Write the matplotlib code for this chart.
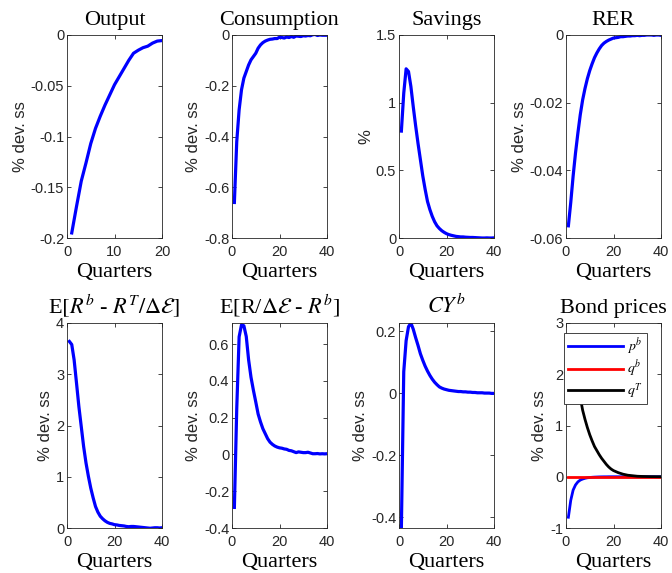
import numpy as np
import matplotlib
matplotlib.use("Agg")
import matplotlib.pyplot as plt

# Dados (respostas a impulso)

q20 = np.arange(1, 21)
q40 = np.arange(1, 41)

output = [-0.195, -0.169, -0.144, -0.126, -0.107, -0.092, -0.080, -0.069, -0.059, -0.049,
          -0.041, -0.033, -0.025, -0.018, -0.015, -0.0125, -0.011, -0.008, -0.006, -0.0055]

consumption = [-0.66, -0.42, -0.295, -0.216, -0.17, -0.144, -0.118, -0.098, -0.085, -0.072,
               -0.052, -0.039, -0.030, -0.024, -0.020, -0.017, -0.016, -0.014, -0.014, -0.009,
               -0.010, -0.012, -0.008, -0.010, -0.006, -0.009, -0.004, -0.005, -0.006, -0.003,
               -0.004, -0.002, -0.003, 0.001, 0.002, -0.002, 0.0, -0.001, -0.001, -0.001]

savings = [0.79, 1.07, 1.25, 1.23, 1.12, 0.97, 0.83, 0.70, 0.58, 0.46,
           0.36, 0.27, 0.21, 0.16, 0.12, 0.09, 0.07, 0.054, 0.042, 0.032,
           0.025, 0.02, 0.016, 0.012, 0.01, 0.008, 0.008, 0.006, 0.005, 0.004,
           0.004, 0.003, 0.002, 0.001, 0.0, 0.0, 0.001, 0.0, 0.0, 0.001]

rer = [-0.0564, -0.0495, -0.0417, -0.0349, -0.029, -0.0236, -0.0192, -0.0158, -0.0129, -0.0105,
       -0.0085, -0.0067, -0.0053, -0.0041, -0.0031, -0.0024, -0.0019, -0.0015, -0.0012, -0.0009,
       -0.0008, -0.0007, -0.0005, -0.0005, -0.0004, -0.0003, -0.0003, -0.0002, -0.0002, -0.0001,
       -0.0002, -0.0001, -0.0001, 0.0, 0.0, 0.0, -0.0001, 0.0, 0.0, -0.0001]

spread_bT = [3.64, 3.58, 3.28, 2.83, 2.37, 1.98, 1.59, 1.27, 1.01, 0.78,
             0.59, 0.42, 0.31, 0.23, 0.18, 0.14, 0.11, 0.09, 0.08, 0.065,
             0.06, 0.05, 0.045, 0.04, 0.03, 0.025, 0.03, 0.03, 0.025, 0.02,
             0.015, 0.01, 0.005, 0.0, -0.005, 0.0, 0.005, 0.005, 0.0, 0.005]

spread_Rb = [-0.288, 0.25, 0.64, 0.705, 0.70, 0.642, 0.514, 0.42, 0.35, 0.286,
             0.22, 0.177, 0.14, 0.113, 0.086, 0.067, 0.055, 0.046, 0.04, 0.036,
             0.034, 0.03, 0.028, 0.022, 0.02, 0.015, 0.01, 0.014, 0.012, 0.01,
             0.01, 0.012, 0.008, 0.004, 0.004, 0.005, 0.003, 0.004, 0.003, 0.004]

cyb = [-0.434, 0.07, 0.17, 0.215, 0.227, 0.207, 0.18, 0.155, 0.128, 0.107,
       0.088, 0.072, 0.058, 0.046, 0.036, 0.028, 0.021, 0.017, 0.014, 0.012,
       0.010, 0.009, 0.008, 0.007, 0.006, 0.006, 0.005, 0.005, 0.004, 0.004,
       0.003, 0.003, 0.002, 0.002, 0.002, 0.001, 0.001, 0.001, 0.0, 0.0]

pb = [-0.79, -0.46, -0.26, -0.16, -0.10, -0.065, -0.045, -0.03, -0.02, -0.015,
      -0.01, -0.007, -0.005, -0.003, -0.002, -0.001, -0.001, 0.0, 0.0, 0.0,
      0.0, 0.0, 0.0, 0.0, 0.0, 0.0, 0.0, 0.0, 0.0, 0.0,
      0.0, 0.0, 0.0, 0.0, 0.0, 0.0, 0.0, 0.0, 0.0, 0.0]

qb = [0.0, 0.0, 0.0, 0.0, 0.0, 0.0, 0.0, 0.0, 0.0, 0.0,
      0.0, 0.0, 0.0, 0.0, 0.0, 0.0, 0.0, 0.0, 0.0, 0.0,
      0.0, 0.0, 0.0, 0.0, 0.0, 0.0, 0.0, 0.0, 0.0, 0.0,
      0.0, 0.0, 0.0, 0.0, 0.0, 0.0, 0.0, 0.0, 0.0, 0.0]

qT = [2.75, 2.55, 2.3, 2.05, 1.8, 1.55, 1.3, 1.12, 0.96, 0.82,
      0.70, 0.59, 0.51, 0.43, 0.36, 0.30, 0.24, 0.19, 0.15, 0.12,
      0.10, 0.08, 0.065, 0.05, 0.04, 0.03, 0.025, 0.02, 0.015, 0.01,
      0.008, 0.006, 0.005, 0.004, 0.003, 0.002, 0.002, 0.001, 0.001, 0.0]

# Estilo parecido com o MATLAB

plt.rcParams["mathtext.fontset"] = "stix"
plt.rcParams["font.family"] = "Liberation Sans"
cinza = "#262626"
fs_tick = 10.5
fs_lab = 16

fig = plt.figure(figsize=(6.72, 5.73), dpi=100)

W, H = 672, 573
lefts = [67, 232, 399, 566]
largura = 95


def make_ax(col, top, bottom):
    return fig.add_axes([lefts[col] / W, 1 - bottom / H, largura / W, (bottom - top) / H])


def estilo(ax, title, xlim, xticks, ylim, yticks, yticklabels, ylabel="% dev. ss"):
    ax.set_xlim(xlim)
    ax.set_ylim(ylim)
    ax.set_xticks(xticks)
    ax.set_xticklabels([str(t) for t in xticks])
    ax.set_yticks(yticks)
    ax.set_yticklabels(yticklabels)
    ax.tick_params(direction="in", length=3, width=0.6, top=True, right=True,
                   labelsize=fs_tick, colors=cinza, pad=2)
    ax.tick_params(axis="x", pad=5)
    for s in ax.spines.values():
        s.set_color(cinza)
        s.set_linewidth(0.6)
    ax.set_title(title, fontsize=fs_lab, family="Liberation Serif", pad=7)
    ax.set_xlabel("Quarters", fontsize=fs_lab, family="Liberation Serif", labelpad=3)
    ax.set_ylabel(ylabel, fontsize=12, color=cinza, labelpad=2)


lw = 2.3
top1, bot1 = 35, 238
top2, bot2 = 323, 528

ax = make_ax(0, top1, bot1)
ax.plot(q20, output, color="#0000ff", lw=lw)
estilo(ax, "Output", (0, 20), [0, 10, 20], (-0.2, 0),
       [-0.2, -0.15, -0.1, -0.05, 0], ["-0.2", "-0.15", "-0.1", "-0.05", "0"])

ax = make_ax(1, top1, bot1)
ax.plot(q40, consumption, color="#0000ff", lw=lw)
estilo(ax, "Consumption", (0, 40), [0, 20, 40], (-0.8, 0),
       [-0.8, -0.6, -0.4, -0.2, 0], ["-0.8", "-0.6", "-0.4", "-0.2", "0"])

ax = make_ax(2, top1, bot1)
ax.plot(q40, savings, color="#0000ff", lw=lw)
estilo(ax, "Savings", (0, 40), [0, 20, 40], (0, 1.5),
       [0, 0.5, 1, 1.5], ["0", "0.5", "1", "1.5"], ylabel="%")

ax = make_ax(3, top1, bot1)
ax.plot(q40, rer, color="#0000ff", lw=lw)
estilo(ax, "RER", (0, 40), [0, 20, 40], (-0.06, 0),
       [-0.06, -0.04, -0.02, 0], ["-0.06", "-0.04", "-0.02", "0"])

ax = make_ax(0, top2, bot2)
ax.plot(q40, spread_bT, color="#0000ff", lw=lw)
estilo(ax, r"E$[R^b$ - $R^T/\Delta\mathcal{E}]$", (0, 40), [0, 20, 40], (0, 4),
       [0, 1, 2, 3, 4], ["0", "1", "2", "3", "4"])

ax = make_ax(1, top2, bot2)
ax.plot(q40, spread_Rb, color="#0000ff", lw=lw)
estilo(ax, r"E[R/$\Delta\mathcal{E}$ - $R^b$]", (0, 40), [0, 20, 40], (-0.4, 0.715),
       [-0.4, -0.2, 0, 0.2, 0.4, 0.6], ["-0.4", "-0.2", "0", "0.2", "0.4", "0.6"])

ax = make_ax(2, top2, bot2)
ax.plot(q40, cyb, color="#0000ff", lw=lw)
estilo(ax, r"$CY^b$", (0, 40), [0, 20, 40], (-0.434, 0.227),
       [-0.4, -0.2, 0, 0.2], ["-0.4", "-0.2", "0", "0.2"])

ax = make_ax(3, top2, bot2)
ax.plot(q40, pb, color="#0000ff", lw=2.0, label=r"$p^b$")
ax.plot(q40, qb, color="#ff0000", lw=2.0, label=r"$q^b$")
ax.plot(q40, qT, color="black", lw=2.0, label=r"$q^T$")
estilo(ax, "Bond prices", (0, 40), [0, 20, 40], (-1, 3),
       [-1, 0, 1, 2, 3], ["-1", "0", "1", "2", "3"])
leg = ax.legend(loc="upper left", bbox_to_anchor=(-0.02, 0.952), fontsize=10,
                handlelength=4.0, handletextpad=0.3, labelspacing=0.12,
                borderpad=0.25, borderaxespad=0, fancybox=False, framealpha=1)
leg.get_frame().set_edgecolor(cinza)
leg.get_frame().set_linewidth(0.6)

fig.savefig("out.png", dpi=100)
